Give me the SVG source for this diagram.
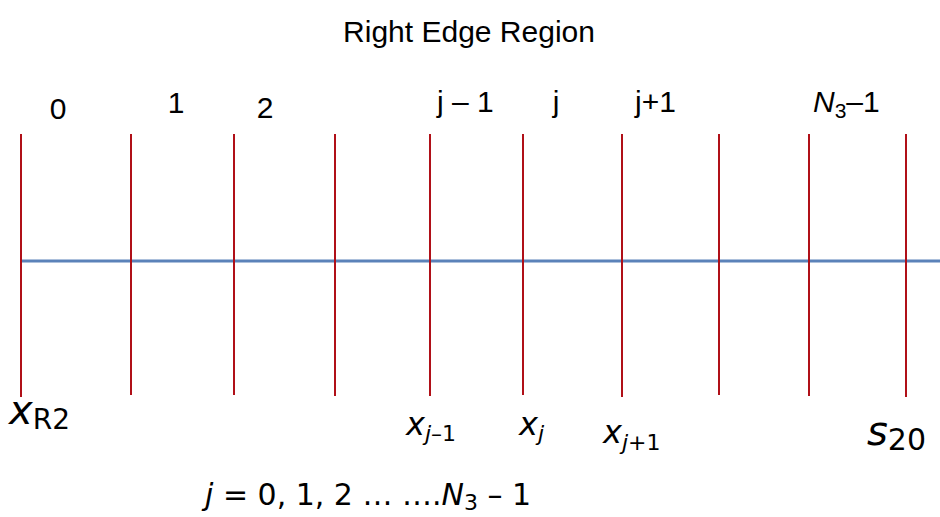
<svg xmlns="http://www.w3.org/2000/svg" width="940" height="517" viewBox="0 0 940 517">
<style>
.t{font-family:"Liberation Sans",Arial,sans-serif;font-size:30px;fill:#000}
.d{font-family:"DejaVu Sans",Verdana,sans-serif;fill:#000}
.v{stroke:#b01018;stroke-width:2}
.h{stroke:#5b82b9;stroke-width:3}
</style>
<rect width="940" height="517" fill="#fff"/>
<text class="t" x="469" y="42" text-anchor="middle" font-size="31">Right Edge Region</text>
<g id="axis"><line class="h" x1="20" y1="261" x2="940" y2="261"/></g>
<g id="connectors">
<line class="v" x1="21" y1="134" x2="21" y2="397"/>
<line class="v" x1="131" y1="134" x2="131" y2="395"/>
<line class="v" x1="234" y1="134" x2="234" y2="395"/>
<line class="v" x1="335" y1="134" x2="335" y2="396"/>
<line class="v" x1="430" y1="134" x2="430" y2="396"/>
<line class="v" x1="523" y1="134" x2="523" y2="395"/>
<line class="v" x1="622" y1="134" x2="622" y2="397"/>
<line class="v" x1="719" y1="134" x2="719" y2="395"/>
<line class="v" x1="809" y1="134" x2="809" y2="396"/>
<line class="v" x1="906" y1="134" x2="906" y2="397"/>
</g>
<g id="top-labels">
<text class="t" x="58" y="119" text-anchor="middle">0</text>
<text class="t" x="176" y="113" text-anchor="middle">1</text>
<text class="t" x="265" y="118" text-anchor="middle">2</text>
<text class="t" x="437" y="112">j – 1</text>
<text class="t" x="556" y="112" text-anchor="middle">j</text>
<text class="t" x="635" y="112">j+1</text>
<text class="t" x="813" y="112"><tspan font-style="italic">N</tspan><tspan font-size="21" dy="6">3</tspan><tspan dy="-6">–1</tspan></text>
</g>
<g id="bottom-labels">
<text class="d" x="9" y="424" font-size="40"><tspan font-style="italic">x</tspan><tspan font-size="28" dy="5">R2</tspan></text>
<text class="d" x="406" y="435" font-size="32"><tspan font-style="italic">x</tspan><tspan font-size="22" dy="6" font-style="italic">j</tspan><tspan font-size="22">–1</tspan></text>
<text class="d" x="519" y="435" font-size="32"><tspan font-style="italic">x</tspan><tspan font-size="22" dy="6" font-style="italic">j</tspan></text>
<text class="d" x="603" y="443" font-size="32"><tspan font-style="italic">x</tspan><tspan font-size="22" dy="7" font-style="italic">j</tspan><tspan font-size="22">+1</tspan></text>
<text class="d" x="867" y="445" font-size="40"><tspan font-style="italic">s</tspan><tspan font-size="30" dy="5">20</tspan></text>
</g>
<g id="formula">
<text class="d" x="205" y="505" font-size="30"><tspan font-style="italic">j</tspan> = 0, 1, 2 … ….<tspan font-style="italic">N</tspan><tspan font-size="22" dy="5">3</tspan><tspan dy="-5"> – 1</tspan></text>
</g>
</svg>
